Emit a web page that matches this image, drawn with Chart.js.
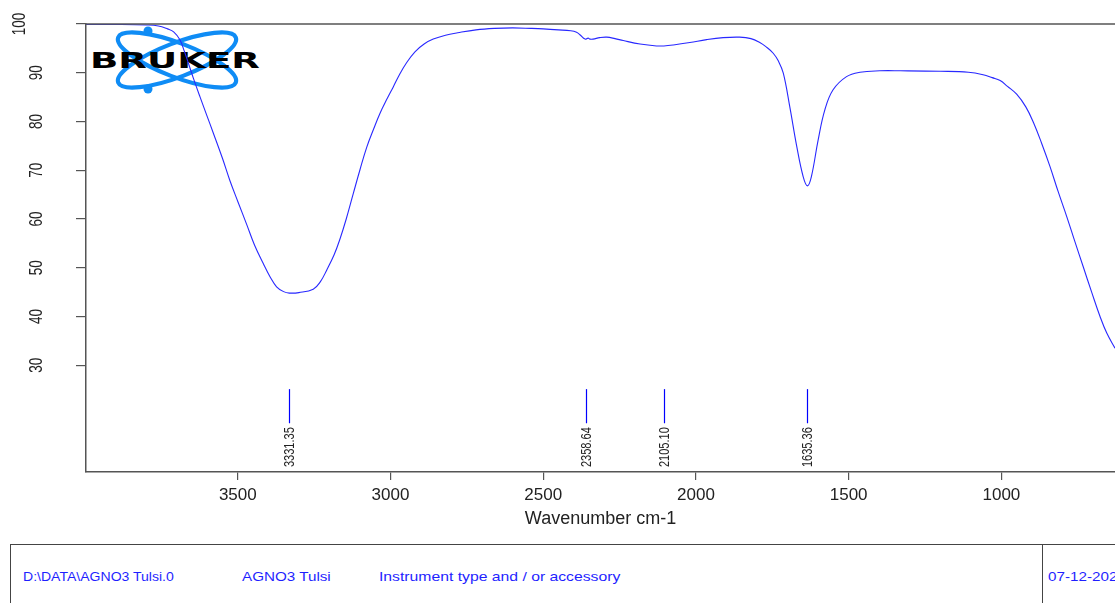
<!DOCTYPE html>
<html>
<head>
<meta charset="utf-8">
<script src="https://cdn.jsdelivr.net/npm/chart.js@4.4.1/dist/chart.umd.min.js"></script>
<style>
  body { margin: 0; width: 1115px; height: 603px; overflow: hidden; background: #fff; position: relative; font-family: "Liberation Sans", Arial, sans-serif; }
  #logo { position: absolute; left: 0; top: 0; z-index: 0; }
  #spectrum { position: absolute; left: 0; top: 0; z-index: 1; }
  .infobox { position: absolute; left: 10px; top: 544px; width: 1200px; height: 100px; border: 1.5px solid #444; box-sizing: border-box; }
  .divider { position: absolute; left: 1042px; top: 544px; width: 0; height: 80px; border-left: 1.5px solid #444; }
  .info { position: absolute; top: 569px; font-size: 13px; color: #1f1fff; white-space: nowrap; transform: scaleX(1.17); transform-origin: left center; }
</style>
</head>
<body>
<svg id="logo" width="280" height="110">
  <g fill="none" stroke="#0f8cf5" stroke-width="4.2">
    <ellipse cx="177" cy="60" rx="63" ry="17" transform="rotate(21 177 60)"></ellipse>
    <ellipse cx="177" cy="60" rx="63" ry="17" transform="rotate(-21 177 60)"></ellipse>
  </g>
  <circle cx="148" cy="31" r="4.5" fill="#0f8cf5"></circle>
  <circle cx="148" cy="89" r="4.5" fill="#0f8cf5"></circle>
  <text x="90" y="68" font-family="DejaVu Sans" font-weight="900" font-size="21" textLength="170" lengthAdjust="spacingAndGlyphs" fill="#000">BRUKER</text>
</svg>
<canvas id="spectrum" width="1115" height="540"></canvas>
<div class="infobox"></div>
<div class="divider"></div>
<div class="info" style="left:23px; transform: scaleX(1.08)">D:\DATA\AGNO3 Tulsi.0</div>
<div class="info" style="left:242px">AGNO3 Tulsi</div>
<div class="info" style="left:379px; transform: scaleX(1.21)">Instrument type and / or accessory</div>
<div class="info" style="left:1048px">07-12-2023</div>

<script>
// spectrum (wavenumber cm-1, transmittance %)
const wavenumbers = [3997, 3900, 3800, 3760, 3730, 3710, 3690, 3675, 3662, 3645, 3624, 3600, 3580, 3550, 3526, 3500,
  3471, 3445, 3417, 3395, 3373, 3350, 3331, 3300, 3253, 3230, 3209, 3185, 3166, 3145, 3122, 3100, 3078, 3055, 3035,
  3010, 2991, 2970, 2948, 2920, 2890, 2860, 2820, 2780, 2720, 2660, 2600, 2540, 2500, 2450, 2410, 2391, 2380, 2363,
  2353, 2347, 2337, 2315, 2292, 2265, 2238, 2183, 2129, 2105, 2074, 2020, 1965, 1911, 1857, 1820, 1791, 1770, 1747,
  1730, 1714, 1693, 1670, 1649, 1635, 1622, 1600, 1578, 1551, 1507, 1463, 1398, 1330, 1200, 1108, 1060, 1030, 1004,
  980, 950, 920, 895, 868, 841, 814, 786, 759, 732, 705, 677, 655, 628];
const transmittance = [99.9, 99.9, 99.8, 99.6, 99.0, 98.4, 96.8, 94.4, 92.0, 88.8, 85.1, 81.0, 77.6, 72.4, 67.9, 63.6,
  58.9, 54.6, 50.9, 48.2, 46.1, 45.1, 44.8, 44.9, 45.6, 47.1, 49.5, 52.6, 55.8, 60.0, 65.2, 70.1, 74.7, 78.5, 81.6,
  84.8, 87.1, 89.7, 92.0, 94.3, 95.9, 96.9, 97.7, 98.2, 98.8, 99.1, 99.2, 99.1, 99.0, 98.8, 98.6, 98.3, 97.8, 96.9,
  97.1, 96.9, 96.9, 97.2, 97.3, 97.0, 96.6, 95.9, 95.5, 95.5, 95.7, 96.2, 96.8, 97.2, 97.3, 97.0, 96.2, 95.3, 94.0,
  92.4, 89.9, 83.1, 74.9, 68.7, 66.8, 68.7, 76.2, 82.4, 86.5, 89.2, 90.1, 90.4, 90.4, 90.3, 90.1, 89.6, 89.0, 88.4,
  87.2, 85.6, 83.0, 79.8, 75.5, 70.8, 65.6, 60.5, 55.3, 50.2, 45.1, 40.0, 36.6, 33.5];

const xTickValues = [3500, 3000, 2500, 2000, 1500, 1000];
const yTickValues = [30, 40, 50, 60, 70, 80, 90, 100];
const peakPositions = [3331.35, 2358.64, 2105.10, 1635.36];
const peakLabels = ['3331.35', '2358.64', '2105.10', '1635.36'];

const axisColor = '#555';

// rotated y labels, peak markers and the top frame line
const spectrumExtras = {
    id: 'spectrumExtras',
    afterDraw(chart) {
        const ctx = chart.ctx;
        const x = chart.scales.x;
        const y = chart.scales.y;
        const area = chart.chartArea;

        ctx.save();
        ctx.strokeStyle = axisColor;
        ctx.lineWidth = 1.5;
        ctx.beginPath();
        ctx.moveTo(area.left, area.top);
        ctx.lineTo(area.right, area.top);
        ctx.stroke();
        ctx.restore();

        yTickValues.forEach(function(v) {
            const py = y.getPixelForValue(v);
            ctx.save();
            ctx.translate(v === 100 ? 20 : 37, py);
            ctx.rotate(-Math.PI / 2);
            ctx.scale(1, 1.4);
            ctx.font = '13.5px "Liberation Sans"';
            ctx.fillStyle = '#222';
            ctx.textAlign = 'center';
            ctx.textBaseline = 'middle';
            ctx.fillText(String(v), 0, 0);
            ctx.restore();
        });

        peakPositions.forEach(function(p, i) {
            const px = Math.round(x.getPixelForValue(p)) + 0.5;
            const top = y.getPixelForValue(25.1);
            const bottom = y.getPixelForValue(18.1);
            ctx.save();
            ctx.strokeStyle = '#0000ff';
            ctx.lineWidth = 1.2;
            ctx.beginPath();
            ctx.moveTo(px, top);
            ctx.lineTo(px, bottom);
            ctx.stroke();
            ctx.translate(px, bottom + 4);
            ctx.rotate(-Math.PI / 2);
            ctx.scale(1, 1.4);
            ctx.font = '11px "Liberation Sans"';
            ctx.fillStyle = '#222';
            ctx.textAlign = 'right';
            ctx.textBaseline = 'middle';
            ctx.fillText(peakLabels[i], 0, 0);
            ctx.restore();
        });
    }
};

const ctx = document.getElementById('spectrum').getContext('2d');
const chart = new Chart(ctx, {
    type: 'line',
    data: {
        datasets: [{
            data: wavenumbers.map(function(w, i) { return { x: w, y: transmittance[i] }; }),
            borderColor: 'rgb(40, 40, 255)',
            borderWidth: 1.1,
            pointRadius: 0,
            fill: false,
            tension: 0.4
        }]
    },
    options: {
        responsive: false,
        animation: false,
        layout: { padding: { top: 24, right: 0, left: 0, bottom: 0 } },
        scales: {
            x: {
                type: 'linear',
                reverse: true,
                min: 628,
                max: 3997,
                afterBuildTicks: function(scale) {
                    scale.ticks = xTickValues.map(function(v) { return { value: v }; });
                },
                afterFit: function(scale) { scale.height = 68; },
                grid: { drawOnChartArea: false, tickLength: 8, color: axisColor, lineWidth: 1.2 },
                border: { color: axisColor, width: 1.5 },
                ticks: {
                    font: { family: 'Liberation Sans', size: 17 },
                    color: '#222',
                    padding: 5,
                    maxRotation: 0,
                    callback: function(value) { return String(value); }
                },
                title: {
                    display: true,
                    text: 'Wavenumber cm-1',
                    font: { family: 'Liberation Sans', size: 18 },
                    color: '#222',
                    padding: { top: 0, bottom: 10 }
                }
            },
            y: {
                min: 8.1,
                max: 100,
                afterBuildTicks: function(scale) {
                    scale.ticks = yTickValues.map(function(v) { return { value: v }; });
                },
                afterFit: function(scale) { scale.width = 86; },
                grid: { drawOnChartArea: false, tickLength: 10, color: axisColor, lineWidth: 1.2 },
                border: { color: axisColor, width: 1.5 },
                ticks: { display: false }
            }
        },
        plugins: {
            legend: { display: false },
            tooltip: { enabled: false }
        }
    },
    plugins: [spectrumExtras]
});
</script>
</body>
</html>
